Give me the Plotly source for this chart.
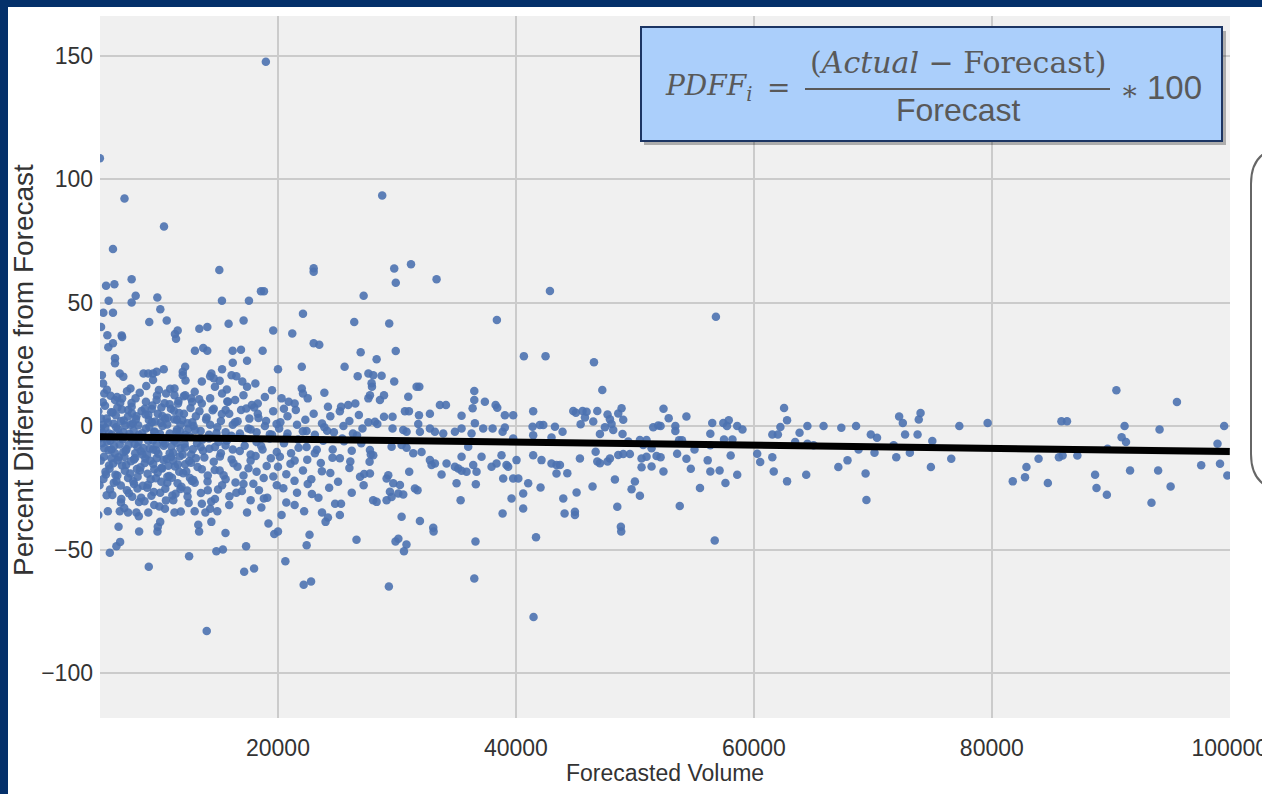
import plotly.graph_objects as go

# ---------------- data (Forecasted Volume, Percent Difference from Forecast) ----------------
points_high = [
    (5030, 108.4), (18980, 147.5), (7100, 92.1), (28760, 93.3), (10420, 80.8), (6130, 71.7),
    (15070, 63.2), (23000, 63.9), (23000, 62.5), (7700, 59.4), (5550, 56.8), (6250, 57.4),
    (8040, 52.7), (9860, 52.0), (7700, 50.0), (5770, 50.7), (15290, 50.7), (17560, 50.7),
    (18570, 54.6), (18820, 54.6), (27200, 52.7), (5320, 45.9), (6130, 45.9), (10110, 47.3),
    (9180, 42.1), (10650, 42.7), (5130, 40.1), (5660, 36.8), (6860, 36.7), (6900, 36.0),
    (6130, 33.5), (5740, 31.9), (11340, 37.3), (11570, 38.7), (11430, 35.3), (13390, 39.4),
    (14060, 40.1), (15850, 41.4), (17110, 42.7), (19600, 38.7), (21200, 37.5), (22100, 45.5),
    (23000, 33.5), (23470, 32.9), (26410, 42.1), (13020, 30.5), (13720, 31.6), (14060, 30.5),
    (16190, 30.5), (16890, 30.9), (18710, 30.5), (26950, 29.9),
]

points_dense = [
    (6300, 27.4), (6300, 25.4), (6700, 21.3), (16200, 25.6), (17400, 26.4), (20000, 23.0),
    (22000, 24.0), (25600, 24.0), (12200, 24.0), (8700, 21.3), (9100, 21.3), (9500, 21.3),
    (9800, 22.0), (10400, 23.0), (12000, 22.0), (14400, 21.3), (15300, 23.0), (16100, 20.6),
    (16500, 20.2), (5200, 20.6), (5300, 17.2), (7000, 20.0), (7600, 15.2), (9500, 18.6),
    (11300, 15.2), (12000, 20.6), (13600, 18.0), (14300, 20.2), (14600, 19.3), (15100, 18.3),
    (14700, 15.9), (15700, 14.8), (17400, 15.9), (18100, 17.2), (17000, 18.0), (19500, 14.5),
    (22000, 15.2), (23900, 13.5), (26700, 20.2), (27600, 21.3), (27900, 15.9),
    (5400, 13.2), (6300, 10.5), (6900, 11.2), (7700, 7.8), (8900, 9.8), (9800, 10.5),
    (10600, 13.2), (11300, 12.5), (11600, 9.1), (12200, 12.5), (12700, 11.2), (13000, 13.9),
    (13600, 9.1), (14300, 11.2), (15300, 13.2), (15800, 9.8), (16400, 10.5), (17100, 12.5),
    (17800, 8.5), (18300, 9.1), (18900, 11.8), (20300, 11.2), (20900, 9.8), (21400, 9.1),
    (22100, 13.2), (22500, 11.2), (24200, 7.8), (25300, 7.8), (25900, 8.5), (26500, 9.1),
    (27600, 11.2),
    (4900, 6.0), (5600, 3.0), (6100, 5.5), (6800, 2.0), (7400, 6.5), (8100, 4.0), (8800, 7.0),
    (9400, 1.5), (9900, 5.0), (10500, 3.0), (11000, 7.0), (11500, 2.5), (12100, 5.0),
    (12800, 1.5), (13400, 6.0), (14000, 3.5), (14600, 7.0), (15200, 2.0), (15900, 5.0),
    (16400, 1.5), (16900, 6.5), (17600, 3.0), (18300, 5.0), (19000, 2.0), (19600, 6.0),
    (20200, 1.5), (20800, 4.0), (21500, 6.5), (22300, 2.5), (23000, 5.0), (23700, 1.0),
    (24400, 4.0), (25200, 6.0), (26000, 2.0), (26800, 4.5), (27600, 1.5), (5300, 0.5),
    (6500, 7.5), (7800, 1.0), (9100, 4.5), (10200, 7.5), (11800, 0.5), (13100, 4.0),
    (14300, 0.5), (15600, 6.5), (18000, 7.5), (20500, 7.0),
    (5100, -1.0), (5800, -3.0), (6400, -0.5), (7000, -2.5), (7600, 0.5), (8300, -3.5),
    (8900, -1.0), (9600, -2.5), (10300, 0.0), (10900, -3.0), (11500, -1.5), (12200, -3.5),
    (12900, 0.0), (13500, -2.0), (14200, -3.5), (14900, -0.5), (15600, -2.5), (16200, 0.5),
    (16800, -3.0), (17500, -1.0), (18200, -2.5), (18900, 0.0), (19500, -3.5), (20100, -1.0),
    (20800, -3.0), (21600, 0.5), (22400, -2.0), (23100, -3.5), (23900, -0.5), (24700, -2.5),
    (25500, 0.0), (26300, -3.0), (27100, -1.0),
    (5000, -5.0), (5400, -9.0), (5900, -6.0), (6300, -11.0), (6700, -7.5), (7200, -10.0),
    (7700, -5.0), (8200, -8.5), (8600, -11.5), (9100, -6.0), (9500, -9.5), (10000, -4.5),
    (10400, -8.0), (10900, -11.0), (11300, -6.0), (11800, -9.0), (12300, -4.5), (12700, -11.5),
    (13200, -7.0), (13700, -10.0), (14200, -5.0), (14700, -8.5), (15200, -11.0), (15700, -6.0),
    (16200, -9.5), (16700, -4.5), (17200, -8.0), (17700, -11.5), (18200, -6.5), (18700, -9.5),
    (19300, -5.0), (19900, -10.5), (20500, -7.0), (21100, -11.0), (21700, -5.5), (22400, -8.5),
    (23100, -11.0), (23800, -6.0), (24600, -9.5), (25400, -5.0), (26200, -10.0), (27000, -7.0),
    (27800, -11.5), (5200, -7.0), (6000, -9.5), (6900, -4.5), (8000, -11.0), (9800, -7.5),
    (11600, -4.0), (13500, -8.5), (15000, -6.5),
    (5100, -14.0), (5500, -18.5), (6000, -13.0), (6500, -20.0), (6900, -16.0), (7400, -21.0),
    (7900, -13.5), (8400, -18.0), (8800, -15.0), (9300, -21.5), (9800, -13.0), (10200, -17.0),
    (10700, -20.5), (11200, -14.0), (11700, -18.5), (12200, -15.5), (12600, -21.0), (13100, -13.0),
    (13600, -17.5), (14100, -20.0), (14600, -14.5), (15100, -18.0), (15600, -21.5), (16100, -13.5),
    (16600, -16.5), (17100, -20.0), (17700, -14.0), (18200, -18.5), (18800, -21.0), (19400, -13.0),
    (20000, -16.5), (20700, -19.5), (21400, -14.0), (22100, -18.0), (22800, -21.5), (23600, -15.0),
    (24400, -19.0), (25200, -13.0), (26000, -17.0), (26900, -20.5), (27700, -14.5), (5800, -16.0),
    (7100, -12.5), (8200, -20.5), (9600, -17.5), (11000, -12.5),
    (5000, -24.0), (5600, -28.0), (6200, -23.0), (6800, -31.0), (7300, -26.0), (7900, -23.5),
    (8500, -29.0), (9000, -25.0), (9600, -32.0), (10100, -27.0), (10700, -23.0), (11200, -30.0),
    (11800, -25.5), (12400, -28.5), (13000, -23.0), (13600, -31.5), (14100, -26.0), (14700, -29.5),
    (15300, -24.0), (15900, -32.0), (16500, -27.0), (17100, -23.5), (17700, -30.0), (18400, -26.0),
    (19100, -29.0), (19900, -24.0), (20700, -31.0), (21600, -27.0), (22500, -23.5), (23400, -29.0),
    (24300, -25.0), (25300, -31.5), (26200, -27.0), (27200, -24.0), (28000, -30.0),
    (5700, -34.5), (6700, -34.5), (7400, -35.0), (8100, -35.0), (8300, -36.5), (9100, -35.0),
    (10500, -33.5), (11300, -35.0), (13000, -34.5), (13900, -35.0), (14300, -33.5), (14900, -34.5),
    (17400, -35.0), (18600, -33.0), (20300, -36.0), (21400, -32.0), (22200, -34.5), (23700, -35.0),
    (24200, -37.0), (25200, -36.0), (24800, -31.5), (6600, -40.8), (9900, -40.8), (10100, -38.8),
    (13300, -40.0), (14400, -38.8), (19200, -39.5), (24000, -38.8), (4900, -36.0),
]

points_left_extra = [
    (5120, 3.1), (5230, -2.6), (5370, -12.4), (5460, 8.2), (5540, -19.6), (5650, -6.3),
    (5710, 1.4), (5880, -25.7), (5930, 12.3), (6040, -3.4), (6150, -15.2), (6230, -8.1),
    (6370, 4.4), (6420, -22.3), (6560, -1.2), (6610, -12.6), (6740, 9.4), (6830, -29.5),
    (6950, -5.3), (7040, 2.2), (7130, -18.1), (7260, -9.4), (7310, 14.1), (7470, -27.2),
    (7520, -3.1), (7640, -14.3), (7720, 5.2), (7830, -22.4), (7960, -7.3), (8030, 11.2),
    (8140, -17.4), (8250, 0.3), (8320, -30.8), (8470, -10.2), (8530, 6.1), (8640, -24.2),
    (8720, -4.4), (8850, -13.1), (8930, 16.2), (9040, -19.3), (9150, 2.4), (9220, -9.1),
    (9360, -28.2), (9440, 8.3), (9510, -15.4), (9630, -2.2), (9740, -21.1), (9830, 12.4),
    (9950, -11.2), (10030, -32.6), (10140, 1.3), (10260, -17.2), (10340, -6.1), (10470, 9.2),
    (10530, -25.4), (10650, -13.3), (10720, 3.4), (10860, -20.2), (10940, 15.1), (11050, -8.3),
    (11120, -28.1), (11260, 6.2), (11340, -16.4), (11470, -2.3), (11560, -23.2), (11640, 10.1),
    (11750, -12.2), (11830, -34.6), (11960, 2.3), (12040, -19.1), (12150, -7.2), (12230, 18.4),
    (12370, -26.1), (12460, -1.1), (12540, -14.2), (12650, 7.3), (12760, -22.2), (12840, -9.4),
]

points_left_fill = [
    (5150, -4.2), (5280, 9.6), (5330, -21.4), (5490, -0.8), (5620, 14.7), (5760, -9.8),
    (5840, -17.3), (5970, 5.6), (6080, -27.9), (6190, 0.9), (6280, -4.8), (6340, -19.7),
    (6470, 11.8), (6530, -13.9), (6680, -3.6), (6790, -24.1), (6880, 6.7), (6990, -10.6),
    (7080, -33.2), (7170, 0.2), (7240, -15.8), (7390, 3.9), (7430, -7.7), (7580, -19.2),
    (7690, 9.3), (7750, -28.6), (7870, -1.9), (7990, -12.9), (8060, 2.8), (8190, -25.3),
    (8280, -6.4), (8380, 13.5), (8440, -16.7), (8580, -2.9), (8690, -8.9), (8780, -30.4),
    (8870, 4.7), (8990, -11.6), (9070, -23.8), (9180, -0.4), (9270, -14.1), (9390, 6.9),
    (9480, -5.9), (9570, -26.7), (9690, 1.8), (9780, -9.9), (9890, -18.8), (9990, 14.6),
    (10080, -3.1), (10190, -22.6), (10290, 4.1), (10380, -13.7), (10490, -7.1), (10580, -30.1),
    (10690, 0.6), (10780, -16.1), (10890, 8.8), (10990, -4.9), (11090, -20.9), (11190, -10.8),
    (11290, 2.7), (11390, -27.4), (11490, -6.8), (11590, -15.6), (11690, 5.3), (11790, -2.1),
    (11890, -24.6), (11990, -11.5), (12090, 12.1), (12190, -8.7), (12290, -18.4), (12390, 1.1),
    (12490, -31.2), (12590, -4.1), (12690, -14.9), (12790, 9.7), (12890, -21.8), (13050, -1.6),
    (13240, -16.6), (13380, 10.8), (13520, -27.1), (13640, -5.5), (13810, -12.7), (13960, 2.6),
    (14080, -22.5), (14230, -9.2), (14390, -30.6), (14510, 6.4), (14680, -17.8), (14830, -2.8),
    (14960, -25.7), (15120, -12.3), (15280, 4.9), (15430, -19.9), (15590, -7.9), (15740, 9.9),
    (15920, -28.4), (16080, -3.9), (16260, -15.1), (16430, -22.9), (16610, 1.9), (16790, -10.1),
    (16970, -26.3), (17150, -5.1), (17340, 7.1), (17520, -17.1), (17710, -1.4), (17930, -23.4),
    (18120, -12.1), (18360, 3.3), (18590, -8.1), (18810, -29.3), (19050, -16.2), (19320, -3.3),
    (19610, -20.4), (19880, 0.8), (20160, -12.4), (20450, -25.2), (20740, -4.4), (21050, -15.3),
    (21390, -22.2), (21730, -8.8), (22090, -2.1), (22460, -13.6), (22850, -27.5), (23260, -9.6),
    (23690, -18.3), (24130, -1.9), (24580, -12.8), (25050, -22.6), (25550, -6.2), (26080, -14.4),
    (26640, -3.8), (27240, -19.4),
]

points_mid = [
    (28290, 27.0), (29770, 18.0), (28010, 20.6), (28710, 20.4), (27870, 17.3), (27730, 12.5),
    (28910, 12.5), (28570, 10.5), (30950, 11.9), (31650, 15.9), (31880, 15.9), (30670, 6.0),
    (31010, 6.0), (31850, 4.4), (32770, 5.0), (33610, 8.5), (34120, 8.5), (35430, 4.2),
    (36500, 14.2), (36500, 10.5), (36360, 7.2), (37390, 9.8), (38290, 8.5), (38430, 7.4),
    (39070, 4.4), (39770, 4.4), (41450, 6.0), (42300, 0.4), (43280, -0.3),
    (28150, 1.7), (28350, 0.8), (28910, 3.8), (29630, 3.8), (29630, -1.0), (30530, -1.6),
    (30810, -2.3), (31790, 0.8), (31930, -2.3), (32770, -1.0), (33190, -2.3), (33890, -3.0),
    (34870, -2.3), (35430, -1.0), (36270, -3.0), (36550, 1.1), (37250, -1.0), (38040, -1.0),
    (38880, -2.3), (39070, -0.6), (39770, -5.0), (41400, -0.3), (42010, 0.4), (41450, -3.7),
    (42990, -4.6),
    (27730, -9.7), (28010, -11.8), (29550, -8.4), (30390, -7.7), (30810, -8.8), (31370, -11.0),
    (32070, -10.5), (32770, -13.8), (33190, -15.2), (32910, -15.8), (34170, -15.2), (33750, -19.6),
    (34870, -16.5), (35150, -17.2), (35430, -18.1), (35850, -18.5), (35990, -8.4), (35430, -12.4),
    (36410, -15.8), (36690, -18.5), (37110, -12.4), (37950, -16.5), (38370, -15.2), (38790, -11.8),
    (39210, -15.8), (39350, -16.5), (40050, -13.8), (41450, -11.8), (42150, -13.8), (42990, -15.2),
    (43410, -15.8), (43410, -19.2),
    (27730, -19.2), (28290, -30.7), (29130, -21.2), (29270, -19.9), (29690, -23.2), (29410, -26.6),
    (29550, -28.7), (29130, -30.0), (30110, -27.3), (30250, -23.9), (30390, -36.7), (30530, -27.7),
    (31030, -18.5), (31510, -25.3), (31730, -26.0), (31930, -38.4), (33050, -41.2), (35010, -23.2),
    (35350, -30.0), (36630, -23.6), (38930, -21.2), (38880, -35.4), (39630, -29.3), (39770, -21.2),
    (40200, -21.2), (40610, -27.3), (40610, -33.4), (41030, -23.2), (42070, -24.9),
    (29770, 63.8), (31180, 65.5), (29900, 58.0), (33330, 59.4), (42860, 54.7), (29350, 41.5),
    (38400, 42.9), (29900, 30.4), (40670, 28.3), (42490, 28.3),
]

points_mid2 = [
    (46560, 25.8), (47260, 14.6), (44820, 6.1), (45040, 5.4), (45600, 6.1), (45940, 5.8),
    (45800, 3.5), (45440, 0.7), (46500, 1.8), (46840, 6.1), (47700, 4.7), (47900, 2.7),
    (48040, 0.8), (48600, 5.1), (48880, 7.2), (49020, 2.5), (47480, -0.5), (47060, -3.2),
    (48180, -1.6), (48960, -3.2), (49440, -6.3), (43920, -2.3), (45380, -13.1), (46700, -10.4),
    (46840, -14.4), (47060, -15.1), (47700, -14.4), (47900, -13.1), (48600, -11.7), (49020, -11.3),
    (49580, -11.3), (50420, -5.7), (50980, -5.7), (50700, -7.7), (51400, -9.0), (50560, -13.1),
    (50980, -12.4), (51820, -12.1), (50560, -16.7), (51400, -16.4), (51540, -0.5), (51960, 0.2),
    (43700, -15.8), (44320, -19.1), (43980, -29.3), (45100, -26.9), (44090, -35.4), (44960, -34.7),
    (44960, -36.0), (46440, -24.5), (48320, -21.6), (50000, -22.5), (49720, -25.6), (50420, -28.2),
    (48520, -32.7), (48820, -40.8),
]

points_right = [
    (52405, 7.0), (52840, 3.2), (52160, 0.0), (53400, 0.0), (53400, -2.0), (54330, 3.9),
    (53710, -5.8), (53960, -5.8), (52160, -12.6), (52400, -18.4), (53550, -11.2), (54330, -13.2),
    (54700, -17.3), (55010, -9.5), (55470, -25.1), (53770, -32.4), (56120, -13.9), (56340, -3.1),
    (56500, 1.2), (56340, -18.4), (56340, -7.8), (57120, -18.0), (57430, 1.2), (57740, 0.0),
    (57890, 2.3), (57490, -5.5), (58050, -11.9), (58200, -5.5), (57610, -23.1), (58600, -19.7),
    (58600, 0.0), (59040, -1.4), (56710, -46.3), (56810, 44.2), (60280, -11.2), (60530, -14.6),
    (61550, -12.6), (61670, -18.4), (61550, -3.4), (62020, -3.4), (62230, -0.4), (62540, 7.3),
    (62790, 2.3), (62790, -22.4), (63470, -6.5), (63840, -2.7), (64400, -19.7), (64500, 0.0),
    (64500, -7.2), (65020, -7.8), (65860, 0.0), (67100, -16.6), (67350, -0.7), (67870, -13.9),
    (68590, 0.0), (68800, -9.5), (69390, -19.2), (69460, -29.9), (69830, -3.4), (70350, -4.7),
    (70140, -10.8), (71750, -7.8), (71970, -12.6), (72210, 3.9), (72520, 1.2), (72710, -3.4),
    (73110, -10.8), (73760, -3.4), (73860, 2.6), (74010, 5.3), (74880, -16.6), (75000, -6.1),
    (76590, -13.2), (77270, 0.0), (79650, 1.2), (81760, -22.4), (82790, -20.7), (82910, -16.6),
    (83930, -13.2), (84710, -23.1), (85640, -12.6), (85950, -11.9), (85850, 1.9), (86320, 1.9),
    (87190, -11.9), (88680, -19.7), (88800, -25.1), (89670, -27.8), (89730, -9.2), (90470, 14.5),
    (91160, 0.0), (90910, -4.5), (91280, -6.5), (91620, -18.0), (93420, -31.1), (93980, -18.0),
    (94100, -1.4), (95030, -24.5), (95560, 9.7), (97600, -15.9), (98970, -7.2), (99180, -15.3),
    (99530, 0.0), (99800, -20.0),
]

points_low = [
    (5865, -51.3), (6420, -48.7), (6730, -46.9), (9140, -57.0), (12530, -52.7), (14820, -50.7),
    (15370, -50.0), (17320, -48.7), (17160, -59.0), (17990, -57.7), (14010, -83.0), (19690, -43.7),
    (20000, -42.7), (20620, -54.7), (22410, -48.3), (22650, -44.0), (22160, -64.3), (22780, -62.9),
    (26600, -46.0), (29880, -46.7), (30120, -45.6), (30800, -48.0), (30590, -50.7), (29320, -65.0),
    (33080, -42.7), (36600, -46.7), (36500, -61.7), (41480, -77.3), (41690, -45.0), (48850, -42.7),
    (8330, -42.7), (9870, -42.7), (13370, -42.7), (15590, -43.3),
]

# regression line with a faint confidence band
fit_vol = [5040, 30000, 100000]
fit_pdff = [-4.3, -5.9, -10.3]
fit_lo = [-4.9, -6.3, -11.9]
fit_hi = [-3.7, -5.5, -8.7]

x_ticks = [20000, 40000, 60000, 80000, 100000]
x_ticktext = ["20000", "40000", "60000", "80000", "100000"]
y_ticks = [-100, -50, 0, 50, 100, 150]
y_ticktext = ["\u2212100", "\u221250", "0", "50", "100", "150"]

x_title = "Forecasted Volume"
y_title = "Percent Difference from Forecast"

# ---------------- figure ----------------
all_points = (points_high + points_dense + points_left_extra + points_left_fill + points_mid
              + points_mid2 + points_right + points_low)
vol = [p[0] for p in all_points]
pdff = [p[1] for p in all_points]

W, H = 1262, 794
PL, PR, PT, PB = 100, 1230, 16, 718


def px(x):
    return (x - PL) / (PR - PL)


def py(y):
    return (PB - y) / (PB - PT)


NAVY = "#04306a"
TXT = "#595959"
TICKFONT = dict(family="Liberation Sans, Arial, sans-serif", size=23, color="#333333")

fig = go.Figure()
fig.add_trace(go.Scatter(
    x=vol, y=pdff, mode="markers",
    marker=dict(size=8.5, color="rgba(76,114,176,0.9)", line=dict(width=0)),
    hoverinfo="skip", showlegend=False,
))
fig.add_trace(go.Scatter(x=fit_vol, y=fit_hi, mode="lines", line=dict(width=0), showlegend=False, hoverinfo="skip"))
fig.add_trace(go.Scatter(x=fit_vol, y=fit_lo, mode="lines", line=dict(width=0), fill="tonexty",
                         fillcolor="rgba(120,120,120,0.25)", showlegend=False, hoverinfo="skip"))
fig.add_trace(go.Scatter(x=fit_vol, y=fit_pdff, mode="lines", line=dict(color="black", width=7),
                         showlegend=False, hoverinfo="skip"))

shapes = []
# navy frame (top and left)
shapes.append(dict(type="rect", xref="paper", yref="paper", x0=px(0), x1=px(W + 5), y0=py(0), y1=py(7),
                   fillcolor=NAVY, line=dict(width=0), layer="above"))
shapes.append(dict(type="rect", xref="paper", yref="paper", x0=px(0), x1=px(8), y0=py(0), y1=py(H + 5),
                   fillcolor=NAVY, line=dict(width=0), layer="above"))
# formula box with shadow
shapes.append(dict(type="rect", xref="paper", yref="paper", x0=px(644), x1=px(1226), y0=py(31), y1=py(145),
                   fillcolor="rgba(0,0,0,0.28)", line=dict(width=0), layer="above"))
shapes.append(dict(type="rect", xref="paper", yref="paper", x0=px(641), x1=px(1222), y0=py(27), y1=py(141),
                   fillcolor="#abcffb", line=dict(color="#1c3563", width=2), layer="above"))
# fraction bar
shapes.append(dict(type="line", xref="paper", yref="paper", x0=px(805), x1=px(1110), y0=py(89), y1=py(89),
                   line=dict(color=TXT, width=2), layer="above"))
# rounded callout at the right edge (cut off)
x0, x1 = px(1251), px(1300)
yt, yb = py(148), py(490)
rx, ry = 36 / (PR - PL), 36 / (PB - PT)
path = (f"M {x1},{yt} L {x0 + rx},{yt} Q {x0},{yt} {x0},{yt - ry} "
        f"L {x0},{yb + ry} Q {x0},{yb} {x0 + rx},{yb} L {x1},{yb}")
shapes.append(dict(type="path", xref="paper", yref="paper", path=path, fillcolor="white",
                   line=dict(color="#666666", width=2), layer="above"))

SERIF = "DejaVu Serif, Liberation Serif, serif"
SANS = "Liberation Sans, Arial, sans-serif"
annotations = [
    dict(text="<i>PDFF<sub>i</sub></i>", x=px(708), y=py(88), font=dict(family=SERIF, size=28, color=TXT)),
    dict(text="=", x=px(778), y=py(87), font=dict(family=SERIF, size=28, color=TXT)),
    dict(text="(<i>Actual</i> \u2212 Forecast)", x=px(958), y=py(63), font=dict(family=SERIF, size=30, color=TXT)),
    dict(text="Forecast", x=px(958), y=py(110), font=dict(family=SANS, size=32, color=TXT)),
    dict(text="\u2217", x=px(1129), y=py(90), font=dict(family=SERIF, size=28, color=TXT)),
    dict(text="100", x=px(1174), y=py(88), font=dict(family=SANS, size=33, color=TXT)),
    dict(text=x_title, x=px(665), y=py(773), font=dict(family=SANS, size=23, color="#333333")),
    dict(text=y_title, x=px(23), y=py(370), textangle=-90,
         font=dict(family=SANS, size=28, color="#333333")),
]
for a in annotations:
    a.update(xref="paper", yref="paper", showarrow=False, xanchor="center", yanchor="middle")

fig.update_layout(
    width=W, height=H, autosize=False,
    margin=dict(l=PL, r=W - PR, t=PT, b=H - PB, pad=0),
    paper_bgcolor="white", plot_bgcolor="#f0f0f0",
    shapes=shapes, annotations=annotations, showlegend=False,
    xaxis=dict(range=[5040, 100020], tickvals=x_ticks, ticktext=x_ticktext, showgrid=True,
               gridcolor="#cbcbcb", gridwidth=1.5, zeroline=False, showline=False, ticks="",
               tickfont=TICKFONT, ticklabelstandoff=14, ticklabeloverflow="allow",
               automargin=False, fixedrange=True),
    yaxis=dict(range=[-118.2, 166], tickvals=y_ticks, ticktext=y_ticktext, showgrid=True,
               gridcolor="#cbcbcb", gridwidth=1.5, zeroline=False, showline=False, ticks="",
               tickfont=TICKFONT, ticklabelstandoff=6, automargin=False, fixedrange=True),
)

fig.write_html("out.html")
